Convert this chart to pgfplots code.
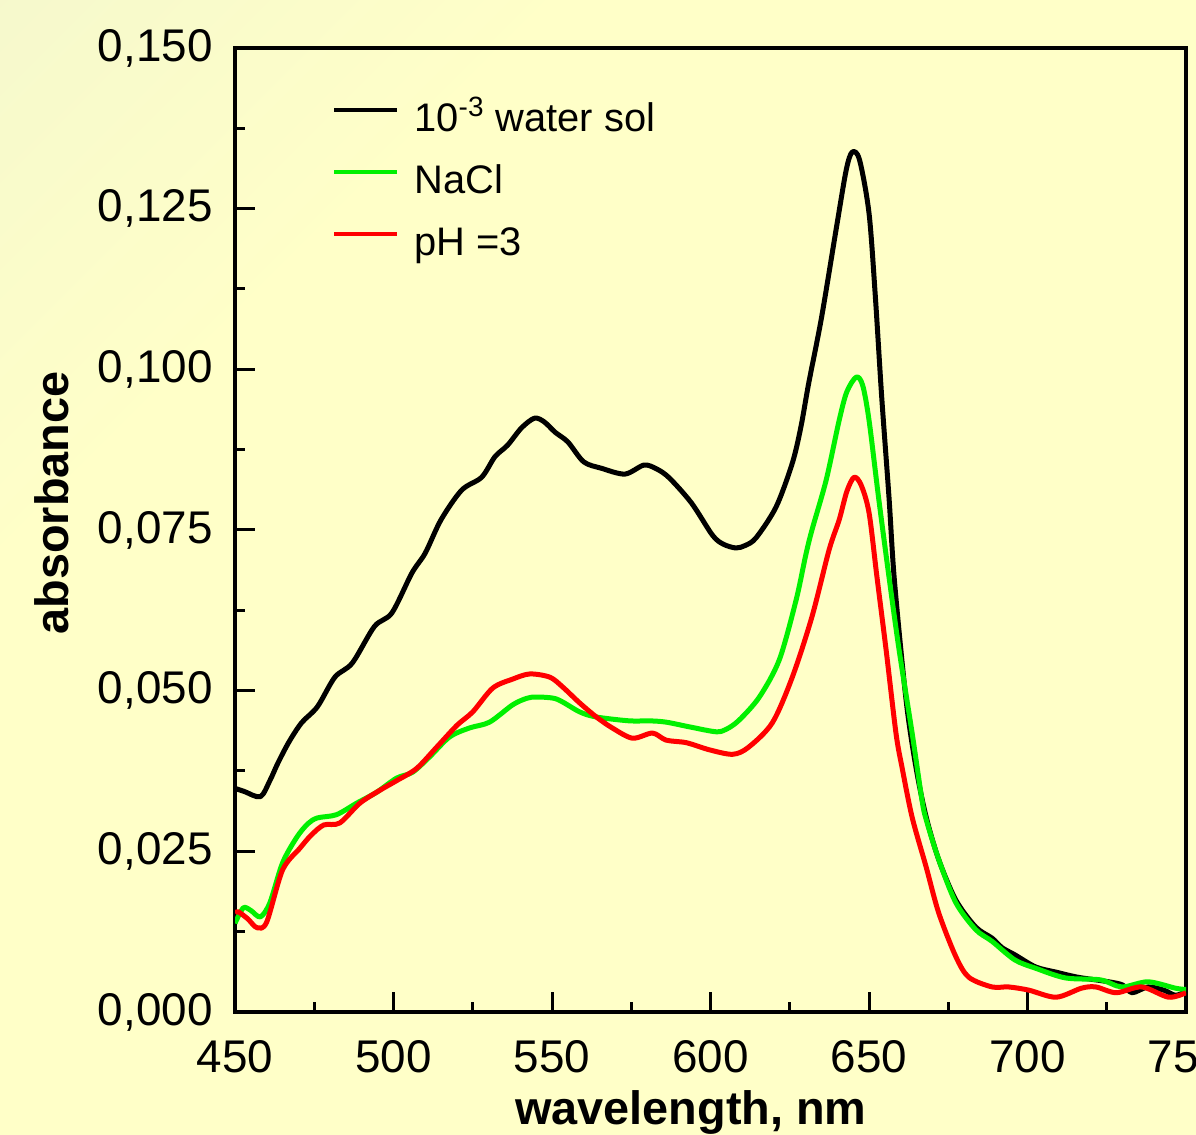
\documentclass[border=0pt]{standalone}
\usepackage{fontspec}
\setmainfont{Liberation Sans}
\usepackage{pgfplots}
\pgfplotsset{compat=1.18}
\definecolor{bgyellow}{RGB}{255,255,200}
\definecolor{bgpale}{RGB}{238,243,208}
\definecolor{lgreen}{RGB}{0,240,0}
\definecolor{lred}{RGB}{255,0,0}
\pgfdeclareverticalshading{bgshade}{100bp}{color(0bp)=(bgyellow); color(68bp)=(bgyellow); color(100bp)=(bgpale)}

\pgfplotstableread{
x y
450 0.0348
453 0.0343
458 0.0335
461 0.0360
463.5 0.0387
467 0.0420
471 0.0450
476 0.0475
481.5 0.0521
487 0.0543
494 0.0600
499.5 0.0621
505.8 0.0683
510 0.0714
515 0.0766
521.5 0.0812
527.8 0.0832
532 0.0864
536 0.0882
540.4 0.0909
544.5 0.0924
547.6 0.0918
551 0.0902
555 0.0887
560 0.0856
565.6 0.0846
573 0.0837
579 0.0851
583 0.0845
587 0.0831
594 0.0792
600.6 0.0742
604 0.0728
608 0.0722
611 0.0726
614.4 0.0738
620.7 0.0786
625.8 0.0854
628.5 0.0910
631 0.0979
635 0.1080
639.6 0.1217
642.8 0.1310
644.7 0.1338
647 0.1326
650 0.1243
652 0.1113
654 0.0957
656.3 0.0801
658 0.0672
661.7 0.0485
664.8 0.0381
668 0.0304
672 0.0237
677.4 0.0174
683.7 0.0132
688.8 0.0115
692 0.0100
696 0.0089
702.6 0.0070
709 0.0062
716 0.0054
725.6 0.0047
730 0.0042
733 0.0030
738 0.0039
743 0.0034
746.7 0.0026
750 0.0032
}\water

\pgfplotstableread{
x y
450 0.0138
452.6 0.0162
455 0.0158
458 0.0148
461 0.0170
465 0.0232
469.5 0.0272
473 0.0293
476 0.0302
482 0.0307
488.4 0.0325
494.7 0.0342
501 0.0364
506 0.0373
511.4 0.0397
517.7 0.0428
524 0.0442
530.3 0.0451
537.6 0.0478
542 0.0488
545 0.0490
551.4 0.0487
558.7 0.0467
564 0.0459
574.4 0.0453
580.7 0.0453
586 0.0451
594 0.0443
601.8 0.0436
605 0.0440
609 0.0454
615.4 0.0490
621.7 0.0548
627 0.0641
630 0.0710
632 0.0750
636.5 0.0828
640.6 0.0921
643 0.0965
646 0.0988
648 0.0975
650 0.0921
653 0.0801
656.3 0.0677
659.5 0.0563
663.6 0.0434
666.7 0.0330
668 0.0300
672 0.0237
677.4 0.0170
683.7 0.0128
688.8 0.0110
696 0.0081
702.6 0.0068
712 0.0053
723 0.0050
729.7 0.0039
738 0.0047
746.7 0.0037
750 0.0035
}\nacl

\pgfplotstableread{
x y
450 0.0154
451 0.0156
454 0.0145
457 0.0131
460 0.0140
465 0.0221
470.5 0.0255
474 0.0275
478 0.0291
483 0.0294
489.4 0.0325
495.7 0.0345
501 0.0360
507.3 0.0379
513.6 0.0412
520 0.0446
525 0.0467
531.3 0.0504
537.6 0.0518
543 0.0526
549.3 0.0521
553.3 0.0506
558.7 0.0481
564 0.0459
569 0.0442
575.4 0.0426
581.7 0.0434
586 0.0423
592.4 0.0419
599.6 0.0408
607 0.0401
612 0.0412
619.5 0.0450
625.8 0.0521
632 0.0615
637.4 0.0719
640.6 0.0766
643 0.0810
645.3 0.0832
647.5 0.0820
650 0.0777
652.5 0.0677
655.4 0.0563
658.5 0.0434
660.4 0.0381
663.6 0.0303
668 0.0226
672 0.0154
677.4 0.0086
681.5 0.0054
688.8 0.0039
694 0.0039
700.4 0.0034
709 0.0023
717 0.0037
721.5 0.0039
728 0.0030
736 0.0039
744.5 0.0023
750 0.0030
}\acid

\begin{document}
\begin{tikzpicture}[x=1bp,y=1bp]
\useasboundingbox (0,0) rectangle (598,567.5);
\fill[bgyellow] (0,0) rectangle (598,567.5);
\shade[shading=bgshade, shading angle=45] (0,0) rectangle (598,567.5);

\begin{axis}[
    at={(117.5bp,61.5bp)}, anchor=south west,
    scale only axis, width=475.5bp, height=482bp,
    xmin=450, xmax=750, ymin=0, ymax=0.15,
    xtick={450,500,550,600,650,700,750},
    ytick={0,0.025,0.05,0.075,0.1,0.125,0.15},
    minor tick num=1,
    tick align=inside, tick pos=left,
    major tick length=10bp, minor tick length=5bp,
    every tick/.append style={line width=1.5bp, black},
    axis line style={line width=2bp},
    /pgf/number format/assume math mode=true,
    tick label style={font=\fontsize{23}{27}\selectfont},
    yticklabel style={inner sep=0pt, xshift=-11bp,
        /pgf/number format/.cd, fixed, fixed zerofill, precision=3, use comma},
    xticklabel style={inner sep=0pt, yshift=-14bp},
    legend style={draw=none, fill=none, inner sep=0pt,
        at={(rel axis cs:0.102,0.947)}, anchor=north west,
        font=\fontsize{20}{24}\selectfont, row sep=10bp,
        nodes={inner sep=0pt, text height=16bp, text depth=5bp},
        column sep=7.5bp},
    legend cell align=left,
    legend image code/.code={\draw[#1, line width=2bp] (0bp,5bp) -- (31.5bp,5bp);},
    every axis plot/.append style={line width=2.5bp, line join=round},
]
\addplot[black, smooth] table {\water};
\addlegendentry{10\textsuperscript{-3} water sol}
\addplot[lgreen, smooth] table {\nacl};
\addlegendentry{NaCl}
\addplot[lred, smooth] table {\acid};
\addlegendentry{pH =3}
\end{axis}

\node[rotate=90, font=\bfseries\fontsize{23.5}{28}\selectfont] at (26,316) {absorbance};
\node[anchor=base, font=\bfseries\fontsize{23.5}{28}\selectfont] at (345.5,5) {wavelength, nm};
\end{tikzpicture}
\end{document}
